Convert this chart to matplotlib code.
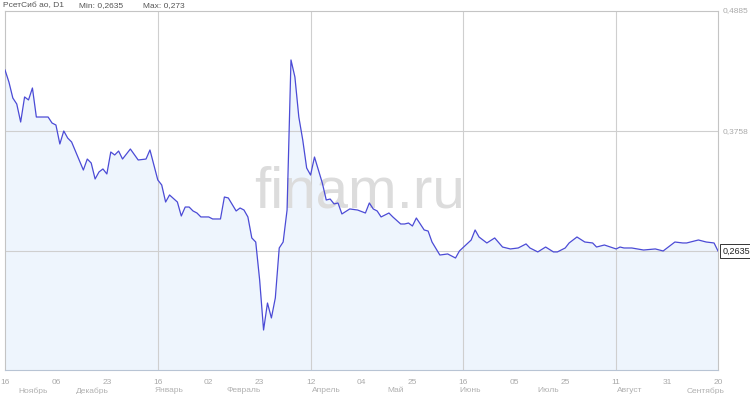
import matplotlib
matplotlib.use("Agg")
import matplotlib.pyplot as plt

plt.rcParams['font.family'] = ['Liberation Sans', 'DejaVu Sans']

# trading-day index and closing price
days = [0, 1, 2, 3, 4, 5, 6, 7, 8, 9, 11, 12, 13, 14, 15, 16, 17, 20, 21, 22,
        23, 24, 25, 26, 27, 28, 29, 30, 32, 34, 36, 37, 39, 40, 41, 42, 44, 45,
        46, 47, 48, 49, 50, 52, 53, 55, 56, 57, 59, 60, 61, 62, 63, 64, 65, 66,
        67, 68, 69, 70, 71, 72, 73, 74, 75, 76, 77, 78, 79, 81, 82, 83, 84, 85,
        86, 88, 90, 92, 93, 94, 95, 96, 98, 99, 101, 102, 103, 104, 105, 107,
        108, 109, 111, 113, 115, 116, 119, 120, 121, 123, 125, 127, 129, 131,
        133, 134, 136, 138, 140, 141, 143, 144, 146, 148, 150, 151, 153, 156,
        157, 158, 160, 163, 166, 168, 171, 173, 174, 177, 179, 181, 182]
price_px = [70, 82, 98, 104, 122, 97, 100, 88, 117, 117, 117, 123, 125, 144,
            131, 138, 142, 170, 159, 163, 179, 172, 169, 174, 152, 155, 151, 159,
            149, 160, 159, 150, 180, 185, 202, 195, 202, 216, 207, 207, 211, 213,
            217, 217, 219, 219, 197, 198, 211, 208, 210, 217, 238, 242, 280, 330,
            303, 318, 298, 248, 242, 210, 60, 77, 117, 140, 168, 175, 157, 183,
            200, 199, 204, 203, 214, 209, 210, 213, 203, 209, 211, 217, 213, 217,
            224, 224, 223, 226, 218, 230, 231, 242, 255, 254, 258, 251, 240, 230,
            237, 243, 238, 247, 249, 248, 244, 248, 252, 247, 252, 252, 248, 243,
            237, 242, 243, 247, 245, 249, 247, 248, 248, 250, 249, 251, 242, 243,
            243, 240, 242, 243, 251]
# convert read chart heights to prices (read scale: 0.4885 at 11, 0.2635 at 251)
prices = [round(0.49881 - 0.0009375 * p, 4) for p in price_px]

tick_days = list(range(0, 183, 13))
tick_labels = ['16', '06', '23', '16', '02', '23', '12', '04', '25', '16',
               '05', '25', '11', '31', '20']
month_pos = [7.1, 22.4, 42, 61, 82, 99.7, 118.8, 138.7, 159.5, 178.9]
month_labels = ['Ноябрь', 'Декабрь', 'Январь', 'Февраль', 'Апрель', 'Май',
                'Июнь', 'Июль', 'Август', 'Сентябрь']
y_levels = [0.4885, 0.3758, 0.2635]
y_labels = ['0,4885', '0,3758', '0,2635']
vgrid_days = [39, 78, 117, 156]

fig = plt.figure(figsize=(7.5, 3.94), dpi=100)
ax = fig.add_axes([5 / 750, 24 / 394, 713 / 750, 359 / 394])
ax.set_xlim(0, 182)
ax.set_ylim(0.1519, 0.4885)

ax.fill_between(days, prices, 0.1519, color='#eef5fd', zorder=1, lw=0)
for v in y_levels[1:]:
    ax.axhline(v, color='#cfcfcf', lw=0.8, zorder=2)
for d in vgrid_days:
    ax.axvline(d, color='#cfcfcf', lw=0.8, zorder=2)
ax.plot(days, prices, color='#4b4bd6', lw=0.9, zorder=3)

for s in ['left', 'right', 'top', 'bottom']:
    ax.spines[s].set_color('#c4c4c4')
    ax.spines[s].set_linewidth(0.8)
ax.spines['bottom'].set_color('#b8c4d4')
ax.set_xticks([])
ax.set_yticks([])

# watermark
ax.text(0.497, 0.454, 'finam.ru', transform=ax.transAxes, fontsize=42,
        color='#dcdcdc', ha='center', va='baseline', zorder=2.5,
        family=['Liberation Sans'])

# x labels
xt = ax.get_xaxis_transform()
for d, lab in zip(tick_days, tick_labels):
    ax.text(d, -0.025, lab, transform=xt, ha='center', va='top',
            fontsize=6, color='#aaaaaa', clip_on=False)
for d, lab in zip(month_pos, month_labels):
    ax.text(d, -0.048, lab, transform=xt, ha='center', va='top',
            fontsize=6, color='#b0b0b0', clip_on=False)

# y labels
yt = ax.get_yaxis_transform()
for v, lab in zip(y_levels[:2], y_labels[:2]):
    ax.text(1.006, v, lab, transform=yt, ha='left', va='center',
            fontsize=6, color='#aaaaaa', clip_on=False)
ax.text(1.006, y_levels[2], y_labels[2], transform=yt, ha='left', va='center',
        fontsize=6.5, color='#222222', clip_on=False,
        bbox=dict(boxstyle='square,pad=0.25', fc='white', ec='#333333', lw=0.7))

# header
fig.text(3 / 750, 1 - 6 / 394, 'РсетСиб ао, D1', fontsize=6, color='#555555',
         ha='left', va='center')
fig.text(79 / 750, 1 - 6 / 394, 'Min: 0,2635', fontsize=6, color='#555555',
         ha='left', va='center')
fig.text(143 / 750, 1 - 6 / 394, 'Max: 0,273', fontsize=6, color='#555555',
         ha='left', va='center')

fig.savefig('out.png', dpi=100)
